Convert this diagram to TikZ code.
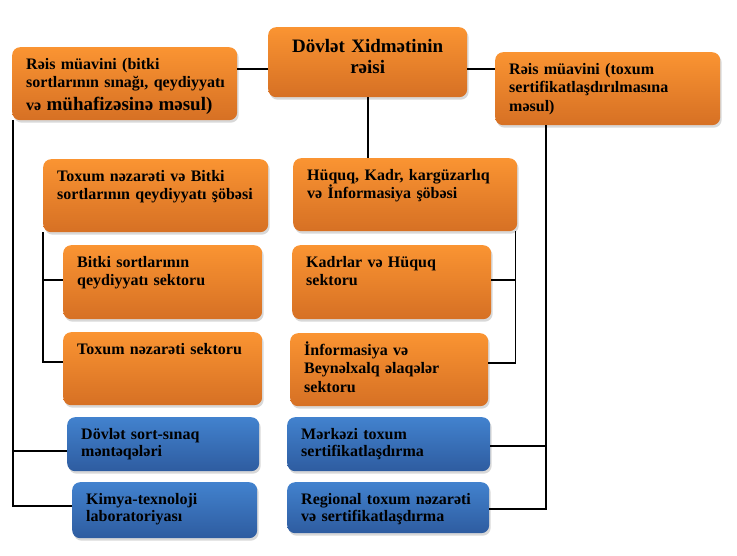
\documentclass[tikz,border=0pt]{standalone}
\usepackage{fontspec}
\setmainfont{Liberation Serif}
\usetikzlibrary{shadows}
\definecolor{orTop}{RGB}{250,148,50}
\definecolor{orBot}{RGB}{214,112,36}
\definecolor{blTop}{RGB}{66,130,206}
\definecolor{blBot}{RGB}{46,92,160}
\begin{document}
\begin{tikzpicture}[x=1pt,y=-1pt,
	unit/.style={anchor=north west, rounded corners=8pt, inner xsep=14pt, inner ysep=0pt,
		text height=22pt, align=left, font=\bfseries\fontsize{16}{18.5}\selectfont,
		drop shadow={shadow xshift=1.5pt, shadow yshift=-2.5pt, fill=black!30}},
	orangebox/.style={unit, top color=orTop, bottom color=orBot},
	bluebox/.style={unit, top color=blTop, bottom color=blBot, font=\bfseries\fontsize{16}{17.5}\selectfont},
	link/.style={line width=1.8pt, black}]
	\useasboundingbox (0,0) rectangle (737,555);
	
	% top row
	\node[orangebox, align=center, text width=171pt, text height=25pt, text depth=45pt,
		font=\bfseries\fontsize{19}{21}\selectfont] (chief) at (268,27) {Dövlət Xidmətinin\\rəisi};
	\node[orangebox, text width=197pt, text depth=51pt] (depL) at (12,47)
		{Rəis müavini (bitki\\\mbox{sortlarının sınağı, qeydiyyatı}\\[4.5pt]və {\fontsize{19}{21}\selectfont mühafizəsinə məsul)}};
	\node[orangebox, text width=197pt, text depth=51pt] (depR) at (495,52)
		{Rəis müavini (toxum\\sertifikatlaşdırılmasına\\məsul)};
	
	% departments
	\node[orangebox, text width=197pt, text depth=51pt] (dept1) at (43,159)
		{Toxum nəzarəti və Bitki\\\mbox{sortlarının qeydiyyatı şöbəsi}};
	\node[orangebox, text width=196pt, text depth=51pt] (dept2) at (293,158)
		{Hüquq, Kadr, kargüzarlıq\\və İnformasiya şöbəsi};
	
	% sectors
	\node[orangebox, text width=171pt, text depth=52pt] (sec1) at (63,245)
		{Bitki sortlarının\\qeydiyyatı sektoru};
	\node[orangebox, text width=171pt, text depth=51pt] (sec2) at (63,332)
		{Toxum nəzarəti sektoru};
	\node[orangebox, text width=171pt, text depth=52pt] (sec3) at (292,245)
		{Kadrlar və Hüquq\\sektoru};
	\node[orangebox, text width=170pt, text depth=51pt] (sec4) at (290,333)
		{İnformasiya və\\Beynəlxalq əlaqələr\\sektoru};
	
	% subordinate bodies
	\node[bluebox, text width=164pt, text depth=32pt] (blue1) at (67,417)
		{Dövlət sort-sınaq\\məntəqələri};
	\node[bluebox, text width=157pt, text depth=34pt] (blue2) at (72,482)
		{Kimya-texnoloji\\laboratoriyası};
	\node[bluebox, text width=175pt, text depth=32pt] (blue3) at (287,417)
		{Mərkəzi toxum\\sertifikatlaşdırma};
	\node[bluebox, text width=174pt, text depth=29pt] (blue4) at (287,482)
		{Regional toxum nəzarəti\\və sertifikatlaşdırma};
	
	% connectors
	\coordinate (jL) at ([yshift=-7pt]chief.west);
	\coordinate (jR) at ([yshift=-7pt]chief.east);
	\draw[link] (jL) -- (jL -| depL.east);
	\draw[link] (jR) -- (jR -| depR.west);
	\draw[link] (chief.south) -- (chief.south |- dept2.north);
	
	\draw[link] ([xshift=1pt]depL.south west) |- ([yshift=4pt]blue2.west);
	\draw[link] ([xshift=1pt]depL.south west) |- ([yshift=-7pt]blue1.west);
	\draw[link] (dept1.south west) |- ([yshift=2pt]sec1.west);
	\draw[link] (dept1.south west) |- ([yshift=7pt]sec2.west);
	
	\draw[link] ([xshift=-2pt]dept2.south east) |- ([yshift=2pt]sec3.east);
	\draw[link] ([xshift=-2pt]dept2.south east) |- ([yshift=7pt]sec4.east);
	\draw[link] ([xshift=51pt]depR.south west) |- ([yshift=-2pt]blue3.east);
	\draw[link] ([xshift=51pt]depR.south west) |- ([yshift=-1pt]blue4.east);
\end{tikzpicture}
\end{document}
